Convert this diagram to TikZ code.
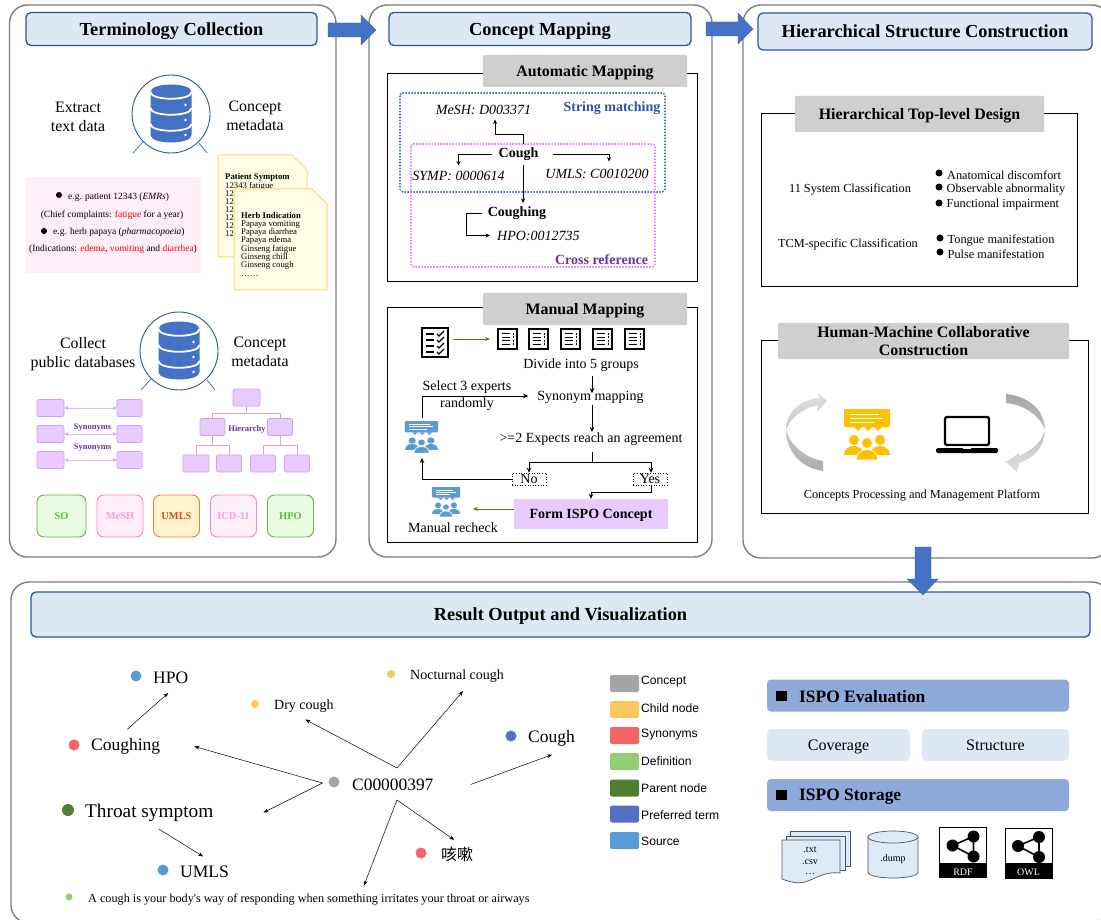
\documentclass[tikz,border=0pt]{standalone}
\usepackage{fontspec}
\setmainfont{Liberation Serif}
\newfontfamily\legendfont{Liberation Sans}
\newfontfamily\cjkfont{Noto Sans CJK SC}
\usetikzlibrary{arrows.meta}
\definecolor{arrowblue}{HTML}{4472C4}
\definecolor{headfill}{HTML}{DEE8F4}
\definecolor{headline}{HTML}{2F5597}
\definecolor{panelgray}{HTML}{7F7F7F}
\definecolor{grayhead}{HTML}{D0CECE}
\definecolor{lilac}{HTML}{E9CCFF}
\definecolor{lilacline}{HTML}{D59CF7}
\definecolor{crossline}{HTML}{E080FF}
\definecolor{deeppurple}{HTML}{7030A0}
\definecolor{docfill}{HTML}{FFFDE6}
\definecolor{docline}{HTML}{FFD966}
\definecolor{pinkfill}{HTML}{FDEEF8}
\definecolor{pinkline}{HTML}{FF80D0}
\definecolor{pinktext}{HTML}{FF99DD}
\definecolor{greenfill}{HTML}{E8FBE0}
\definecolor{greenline}{HTML}{70AD47}
\definecolor{orangefill}{HTML}{FFF2CC}
\definecolor{orangeline}{HTML}{ED7D31}
\definecolor{orangetext}{HTML}{C55A11}
\definecolor{crowdyellow}{HTML}{FFC000}
\definecolor{conceptcol}{HTML}{A5A5A5}
\definecolor{childcol}{HTML}{F9C85B}
\definecolor{syncol}{HTML}{F36666}
\definecolor{defcol}{HTML}{93CE74}
\definecolor{parentcol}{HTML}{4E7F2E}
\definecolor{prefcol}{HTML}{5470C6}
\definecolor{sourcecol}{HTML}{5B9BD5}
\definecolor{evalbar}{HTML}{8EAADB}
\definecolor{storeline}{HTML}{44546A}
\definecolor{storefill}{HTML}{DEEAF6}
\newcommand{\fsz}[1]{\fontsize{#1pt}{\the\dimexpr#1pt*115/100\relax}\selectfont}
\tikzset{
  txt/.style={font=\fsz{#1}, inner sep=1pt, align=center, yshift=-1.5pt},
  boldtxt/.style={txt=#1, font=\fsz{#1}\bfseries},
  itxt/.style={txt=#1, font=\fsz{#1}\itshape},
  twolines/.style={font=\fontsize{15.9pt}{19pt}\selectfont, inner sep=1pt, align=center},
  wh/.style 2 args={minimum width=#1pt, minimum height=#2pt, inner sep=0pt},
  panel/.style={draw=panelgray, line width=1.4pt, rounded corners=18pt},
  headbox/.style={draw=headline, fill=headfill, line width=1.3pt, rounded corners=5pt, font=\fsz{18.4}\bfseries, text depth=0pt},
  grayhd/.style={fill=grayhead, rounded corners=1pt, font=\fsz{15.9}\bfseries, align=center, text depth=0pt},
  blockarrow/.style={fill=arrowblue, draw=arrowblue!80!black, line width=0.3pt},
  subframe/.style={draw=black, line width=0.9pt},
  dottedbox/.style={draw=#1, dash pattern=on 1.5pt off 1.5pt, line width=1.6pt, rounded corners=3pt},
  docpage/.style={draw=docline, fill=docfill, line width=1pt},
  doctxt/.style={anchor=north west, inner sep=0pt, align=left, font=\fontsize{8.7pt}{8pt}\selectfont},
  lilacbox/.style={draw=lilacline, fill=lilac, rounded corners=2pt, line width=0.8pt},
  synarrow/.style={draw=lilacline!70, line width=0.9pt, {Stealth[length=4pt,width=4pt,lilacline]}-{Stealth[length=4pt,width=4pt,lilacline]}},
  hierline/.style={draw=lilacline, line width=1pt},
  purpletxt/.style={font=\fsz{8.5}\bfseries, text=deeppurple, inner sep=0pt},
  srcbox/.style={rounded corners=7pt, line width=0.9pt, font=\fsz{10.4}\bfseries, minimum height=42pt, inner sep=0pt, text depth=0pt},
  thinflow/.style={draw=black, line width=0.7pt, -{Stealth[length=4.5pt,width=4pt]}},
  flow/.style={draw=black, line width=0.9pt, -{Stealth[length=5pt,width=4.5pt]}},
  greenflow/.style={draw=parentcol, line width=0.7pt, -{Stealth[length=5pt,width=4pt]}},
  answer/.style={draw=black, dotted, line width=0.6pt, font=\fsz{14}, minimum width=34pt, minimum height=12pt, inner sep=0pt, text depth=0pt},
  bulletdot/.style={fill=black, circle, minimum size=#1pt, inner sep=0pt},
  gdot/.style={fill=#1, circle, minimum size=11pt, inner sep=0pt},
  gtxt/.style={font=\fsz{#1}, anchor=west, inner sep=0pt, yshift=-1.5pt},
  graphedge/.style={draw=black, line width=0.5pt, -{Stealth[length=5pt,width=4pt]}},
  swatch/.style={fill=#1, rounded corners=2pt, minimum width=29pt, minimum height=17pt, inner sep=0pt},
  legendtxt/.style={font=\legendfont\fsz{12.1}, anchor=west, inner sep=0pt},
  evalhd/.style={fill=evalbar, rounded corners=4pt, minimum width=302pt, minimum height=32pt, inner sep=0pt},
  evalsub/.style={fill=headfill, rounded corners=5pt, minimum height=32pt, inner sep=0pt, font=\fsz{16}, text depth=0pt},
  evaltitle/.style={anchor=west, inner sep=0pt, font=\fsz{17.4}\bfseries}
}
% database in a round frame
\newcommand{\dbicon}[2]{
  \begin{scope}[shift={(#1,#2)}]
    \draw[headline, line width=0.9pt] (0,0) circle (39);
    \draw[arrowblue, line width=0.8pt] (-28,28) -- (-38,39);
    \draw[arrowblue, line width=0.8pt] (28,29) -- (36,39);
    \fill[arrowblue] (-20.5,-22) .. controls (-20.5,-32) and (20.5,-32) .. (20.5,-22) -- (20.5,21) .. controls (20.5,31) and (-20.5,31) .. (-20.5,21) -- cycle;
    \draw[white, line width=1.8pt] (-20.5,-22) .. controls (-20.5,-13) and (20.5,-13) .. (20.5,-22);
    \draw[white, line width=1.8pt] (-20.5,-6) .. controls (-20.5,3) and (20.5,3) .. (20.5,-6);
    \draw[white, line width=1.8pt] (-20.5,10) .. controls (-20.5,19) and (20.5,19) .. (20.5,10);
    \fill[white] (14.5,-9) circle (1.3);
    \fill[white] (14.5,6) circle (1.3);
    \fill[white] (14.5,21) circle (1.3);
  \end{scope}
}
% three people under a speech bubble; arguments: x, top y, scaling, colour
\newcommand{\crowdicon}[4]{
  \begin{scope}[shift={(#1,#2)}, #3]
    \fill[#4, rounded corners=1pt] (-23,0) rectangle (23,18);
    \fill[#4] (-13,18) -- (-5,18) -- (-9,22) -- cycle;
    \fill[#4] (-3,18) -- (5,18) -- (1,22) -- cycle;
    \fill[#4] (7,18) -- (15,18) -- (11,22) -- cycle;
    \draw[white, line width=0.6pt] (-17,5) -- (12,5);
    \draw[white, line width=0.6pt] (-17,9) -- (16,9);
    \draw[white, line width=0.6pt] (-17,13) -- (7,13);
    \fill[#4] (-13,31) circle (5);
    \fill[#4] (13,31) circle (5);
    \fill[#4] (-23,46) .. controls (-23,34) and (-3,34) .. (-3,46) -- cycle;
    \fill[#4] (3,46) .. controls (3,34) and (23,34) .. (23,46) -- cycle;
    \fill[#4, draw=white, line width=0.7pt] (0,34) circle (5.5);
    \fill[#4, draw=white, line width=0.7pt] (-11,51) .. controls (-11,37) and (11,37) .. (11,51) -- cycle;
  \end{scope}
}
\newcommand{\checkicon}[2]{
  \begin{scope}[shift={(#1,#2)}]
    \draw[black, line width=2.2pt, fill=white] (1,1) rectangle (27,30);
    \draw[black, line width=1.3pt] (5,7) -- (13,7);
    \draw[black, line width=1.3pt] (5,13) -- (13,13);
    \draw[black, line width=1.3pt] (5,19) -- (13,19);
    \draw[black, line width=1.3pt] (5,25) -- (13,25);
    \draw[black, line width=1.2pt] (16,7) -- (18,9) -- (23,4);
    \draw[black, line width=1.2pt] (16,13) -- (18,15) -- (23,10);
    \draw[black, line width=1.2pt] (16,19) -- (18,21) -- (23,16);
    \draw[black, line width=1.2pt] (16,25) -- (18,27) -- (23,22);
  \end{scope}
}
\newcommand{\listicon}[2]{
  \begin{scope}[shift={(#1,#2)}]
    \draw[black, line width=1.8pt, fill=white] (0.8,0.8) rectangle (20.2,21.2);
    \draw[black, line width=0.8pt] (4.5,5.5) -- (13,5.5);
    \draw[black, line width=0.8pt] (4.5,9) -- (13,9);
    \draw[black, line width=0.8pt] (4.5,12.5) -- (13,12.5);
    \draw[black, line width=0.8pt] (4.5,16) -- (13,16);
    \fill[black] (15.5,4.5) rectangle (17,6.5);
    \fill[black] (15.5,8) rectangle (17,10);
    \fill[black] (15.5,11.5) rectangle (17,13.5);
    \fill[black] (15.5,15) rectangle (17,17);
  \end{scope}
}
% linked-data badge
\newcommand{\graphbadge}[4]{
  \begin{scope}[shift={(#1,#2)}]
    \draw[black, line width=1pt, fill=white] (0,0) rectangle (47,50);
    \fill[black] (0,35) rectangle (47,50);
    \draw[black, line width=1.6pt] (13,18) -- (34,9) -- (34,29) -- cycle;
    \fill[black] (13,18) circle (6);
    \fill[black] (34,9) circle (6);
    \fill[black] (34,29) circle (6);
    \node[txt=10, text=white] (#3) at (23.5,43) {#4};
  \end{scope}
}
\begin{document}
\begin{tikzpicture}[x=1pt,y=-1pt]
  \useasboundingbox (0,0) rectangle (1101,920);
  \clip (0,0) rectangle (1101,920);
  \fill[white] (0,0) rectangle (1101,920);
  % four panels
  \draw[panel] (9.5,5) rectangle (336,557);
  \draw[panel] (369,5) rectangle (712,557);
  \draw[panel] (743,5) rectangle (1110,558);
  \draw[panel] (11,582) rectangle (1110,923);
  \node[headbox, wh={291}{33}] (collecthd) at (171.5,29) {Terminology Collection};
  \node[headbox, wh={302}{33}] (mappinghd) at (540,29) {Concept Mapping};
  \node[headbox, wh={334}{37}] (structhd) at (925,31.5) {Hierarchical Structure Construction};
  \node[headbox, wh={1059}{45}] (resulthd) at (560.5,614.5) {Result Output and Visualization};
  \draw[blockarrow] (328,23) -- (361,23) -- (361,15) -- (376,30) -- (361,45) -- (361,37) -- (328,37) -- cycle;
  \draw[blockarrow] (706,22) -- (738,22) -- (738,13) -- (753,29) -- (738,44) -- (738,36) -- (706,36) -- cycle;
  \draw[blockarrow] (915,547) -- (931,547) -- (931,579) -- (938,579) -- (923,595) -- (907,579) -- (915,579) -- cycle;

  % terminology collection
  \dbicon{171}{114}
  \node[twolines] (extract) at (78,116.5) {Extract\\text data};
  \node[twolines] (metaa) at (255,115.5) {Concept\\metadata};
  \fill[pinkfill] (26,177) rectangle (201,273);
  \node[bulletdot=6] (bulleta) at (59,195) {};
  \node[txt=9.5, anchor=west] (patient) at (67,196) {e.g. patient 12343 (\textit{EMRs})};
  \node[txt=9.5] (chief) at (112,214) {(Chief complaints: \textcolor{red}{fatigue} for a year)};
  \node[bulletdot=6] (bulletb) at (44,231) {};
  \node[txt=9.5, anchor=west] (herb) at (52,231) {e.g. herb papaya (\textit{pharmacopoeia})};
  \node[txt=9.5] (indic) at (113,248) {(Indications: \textcolor{red}{edema}, \textcolor{red}{vomiting} and \textcolor{red}{diarrhea})};
  \draw[docpage] (218,155) -- (292,155) -- (307,170) -- (307,257) -- (218,257) -- cycle;
  \node[doctxt] (symptom) at (225,173.5) {\textbf{Patient Symptom}\\12343 fatigue\\12\\12\\12\\12\\12\\12};
  \draw[docpage] (234,189) -- (312,189) -- (327,204) -- (327,290) -- (234,290) -- cycle;
  \node[doctxt] (indication) at (241,212) {\textbf{Herb Indication}\\Papaya vomiting\\Papaya diarrhea\\Papaya edema\\Ginseng fatigue\\Ginseng chill\\Ginseng cough\\[1pt]\ldots\ldots};
  \dbicon{179}{351}
  \node[twolines] (public) at (83,354) {Collect\\public databases};
  \node[twolines] (metab) at (260,351.5) {Concept\\metadata};
  \node[lilacbox, wh={27}{17}] (syna) at (50.5,408) {};
  \node[lilacbox, wh={25}{17}] (synb) at (129.5,408) {};
  \node[lilacbox, wh={27}{17}] (sync) at (50.5,434) {};
  \node[lilacbox, wh={25}{17}] (synd) at (129.5,434) {};
  \node[lilacbox, wh={27}{17}] (syne) at (50.5,460) {};
  \node[lilacbox, wh={25}{17}] (synf) at (129.5,460) {};
  \draw[synarrow] (syna) to (synb);
  \draw[synarrow] (sync) to (synd);
  \draw[synarrow] (syne) to (synf);
  \node[purpletxt] (syntxta) at (92.5,428) {Synonyms};
  \node[purpletxt] (syntxtb) at (92.5,448) {Synonyms};
  \node[lilacbox, wh={27}{17}] (hroot) at (246.5,397.5) {};
  \node[lilacbox, wh={25}{17}] (hmida) at (212.5,427) {};
  \node[lilacbox, wh={25}{17}] (hmidb) at (280,427) {};
  \node[lilacbox, wh={26}{17}] (hleafa) at (196,463.5) {};
  \node[lilacbox, wh={25}{17}] (hleafb) at (229,463.5) {};
  \node[lilacbox, wh={25}{17}] (hleafc) at (263,463.5) {};
  \node[lilacbox, wh={25}{17}] (hleafd) at (297,463.5) {};
  \draw[hierline] (hroot.south) -- ++(0,7) -| (hmida.north);
  \draw[hierline] (hroot.south) -- ++(0,7) -| (hmidb.north);
  \draw[hierline] (hmida.south) -- ++(0,10) -| (hleafa.north);
  \draw[hierline] (hmida.south) -- ++(0,10) -| (hleafb.north);
  \draw[hierline] (hmidb.south) -- ++(0,10) -| (hleafc.north);
  \draw[hierline] (hmidb.south) -- ++(0,10) -| (hleafd.north);
  \node[purpletxt] (hiertxt) at (247,429) {Hierarchy};
  \node[srcbox, draw=greenline, fill=greenfill, text=greenline!85!green, minimum width=49pt] (so) at (61.5,516) {SO};
  \node[srcbox, draw=pinkline, fill=pinkfill, text=pinktext, minimum width=46pt] (mesh) at (120,516) {MeSH};
  \node[srcbox, draw=orangeline, fill=orangefill, text=orangetext, minimum width=46pt] (umls) at (176.5,516) {UMLS};
  \node[srcbox, draw=pinkline, fill=pinkfill, text=pinktext, minimum width=46pt] (icd) at (233.5,516) {ICD-11};
  \node[srcbox, draw=greenline, fill=greenfill, text=greenline!85!green, minimum width=46pt] (hposrc) at (290.5,516) {HPO};

  % automatic mapping
  \draw[subframe] (387,73) rectangle (697,281);
  \node[grayhd, wh={204}{32}] (autohd) at (585,71) {Automatic Mapping};
  \draw[dottedbox=arrowblue] (400,93) rectangle (665,192);
  \draw[dottedbox=crossline] (411,144) rectangle (655,267);
  \node[boldtxt=14, text=headline] (stringtxt) at (612,107) {String matching};
  \node[boldtxt=14, text=deeppurple] (crosstxt) at (601.5,258) {Cross reference};
  \node[itxt=14] (meshid) at (483.5,108) {MeSH: D003371};
  \node[boldtxt=14] (cough) at (518.5,153) {Cough};
  \node[itxt=14] (sympid) at (458.5,174) {SYMP: 0000614};
  \node[itxt=14] (umlsid) at (597,172) {UMLS: C0010200};
  \node[boldtxt=14] (coughing) at (517,212) {Coughing};
  \node[itxt=14, anchor=west] (hpoid) at (496,234) {HPO:0012735};
  \draw[thinflow] ([xshift=4.5pt,yshift=3pt]cough.north) -- ++(0,-10) -| ([xshift=11.5pt,yshift=-4pt]meshid.south);
  \draw[thinflow] ([xshift=-5pt]cough.west) -| ([yshift=4pt]sympid.north);
  \draw[thinflow] ([xshift=13pt]cough.east) -| ([xshift=12pt,yshift=6pt]umlsid.north);
  \draw[thinflow] ([xshift=4.5pt,yshift=-3pt]cough.south) -- ([xshift=6pt,yshift=3pt]coughing.north);
  \draw[thinflow] ([xshift=-5pt]coughing.west) -- ++(-15,0) |- ([xshift=-6pt]hpoid.west);

  % manual mapping
  \draw[subframe] (387,307) rectangle (697,542);
  \node[grayhd, wh={204}{32}] (manualhd) at (585,309) {Manual Mapping};
  \checkicon{421}{327}
  \coordinate (checkout) at (453,339);
  \coordinate (groupin) at (490,339);
  \draw[greenflow] (checkout) to (groupin);
  \listicon{497}{328}
  \listicon{528}{328}
  \listicon{560}{328}
  \listicon{592}{328}
  \listicon{624}{328}
  \node[txt=14] (divide) at (581,364) {Divide into 5 groups};
  \node[txt=14] (synmap) at (590.5,396) {Synonym mapping};
  \node[font=\fontsize{14pt}{17pt}\selectfont, align=center, inner sep=1pt] (select) at (467,395.5) {Select 3 experts\\randomly};
  \node[txt=14] (agree) at (591,438) {>=2 Expects reach an agreement};
  \coordinate (split) at (592,462);
  \node[answer, fill=white] (nobox) at (529,479) {No};
  \node[answer, fill=white] (yesbox) at (650,479) {Yes};
  \node[fill=lilac, wh={154}{30}, font=\fsz{14}\bfseries, text depth=0pt] (form) at (591,514) {Form ISPO Concept};
  \crowdicon{421.5}{421}{xscale=0.72,yscale=0.63}{sourcecol}
  \coordinate (crowdtop) at (422,418);
  \coordinate (crowdlow) at (422,458);
  \crowdicon{446}{487}{xscale=0.61,yscale=0.59}{sourcecol}
  \coordinate (recheckpt) at (473,509);
  \node[txt=14] (recheck) at (453,526) {Manual recheck};
  \draw[flow] ([xshift=11pt,yshift=-3pt]divide.south) -- ([xshift=1.5pt,yshift=-3pt]synmap.north);
  \draw[flow] ([xshift=1.5pt]synmap.south) -- ([xshift=1pt]agree.north);
  \draw[line width=0.9pt] ([yshift=-5pt]agree.south -| split) -- (split);
  \draw[flow] (split) -| (nobox.north);
  \draw[flow] (split) -| ([xshift=1pt]yesbox.north);
  \draw[flow, line width=0.7pt] (crowdtop) |- ([xshift=-8pt,yshift=1.5pt]synmap.west);
  \draw[flow, line width=0.7pt] (nobox.west) -| (crowdlow);
  \draw[flow] ([xshift=1pt]yesbox.south) -- ++(0,7) -| (form.north);
  \draw[greenflow, line width=0.9pt] ([yshift=5pt]form.west) -- (recheckpt);

  % top-level design
  \draw[subframe] (761,113) rectangle (1077,286);
  \node[grayhd, wh={249}{36}] (tophd) at (919.5,114) {Hierarchical Top-level Design};
  \node[txt=12.3] (sysclass) at (850,188) {11 System Classification};
  \node[txt=12.3] (tcmclass) at (848,243) {TCM-specific Classification};
  \node[bulletdot=7] (bulletc) at (939,173) {};
  \node[bulletdot=7] (bulletd) at (939,187) {};
  \node[bulletdot=7] (bullete) at (939,203) {};
  \node[bulletdot=7] (bulletf) at (940,238) {};
  \node[bulletdot=7] (bulletg) at (940,252) {};
  \node[txt=12.3, anchor=west] (anat) at (946,174) {Anatomical discomfort};
  \node[txt=12.3, anchor=west] (observ) at (945.5,188) {Observable abnormality};
  \node[txt=12.3, anchor=west] (funct) at (945.5,203) {Functional impairment};
  \node[txt=12.3, anchor=west] (tongue) at (946.5,239) {Tongue manifestation};
  \node[txt=12.3, anchor=west] (pulse) at (946.5,253) {Pulse manifestation};

  % human-machine construction
  \draw[subframe] (761,340) rectangle (1088,513);
  \node[grayhd, wh={291}{36}] (humanhd) at (923.5,341) {Human-Machine Collaborative\\Construction};
  \shade[top color=gray!25, bottom color=gray!65] (823,471) .. controls (800,468) and (786,450) .. (786,430) .. controls (786,412) and (800,400) .. (819,398) -- (818,393) -- (827,401) -- (817,412) -- (818,405) .. controls (803,408) and (790,418) .. (786,430) .. controls (790,445) and (805,458) .. (823,461) -- cycle;
  \shade[top color=gray!70, bottom color=gray!25] (1006,394) .. controls (1028,396) and (1045,410) .. (1045,430) .. controls (1045,445) and (1035,458) .. (1019,463) -- (1017,472) -- (1006,462) -- (1019,453) -- (1019,456) .. controls (1032,450) and (1042,442) .. (1045,430) .. controls (1040,416) and (1025,405) .. (1006,403) -- cycle;
  \crowdicon{867}{409}{scale=1}{crowdyellow}
  \draw[black, line width=2.4pt, rounded corners=1.5pt, fill=white] (945,417) rectangle (989,445);
  \fill[black, rounded corners=1.5pt] (936,448) rectangle (998,453);
  \fill[white] (963,448) rectangle (971,449.3);
  \node[txt=12.3] (platform) at (922,494) {Concepts Processing and Management Platform};

  % concept graph
  \node[gdot=conceptcol] (cdot) at (334,782) {};
  \node[gtxt=17.4] (concept) at (352,783) {C00000397};
  \node[gdot=sourcecol] (hpodot) at (136,676) {};
  \node[gtxt=17.5] (hpo) at (153,676) {HPO};
  \node[gdot=syncol] (coughingdot) at (74,745) {};
  \node[gtxt=17.5] (coughingt) at (91,745) {Coughing};
  \node[gdot=parentcol, minimum size=12pt] (throatdot) at (68,810) {};
  \node[gtxt=19.3] (throat) at (85,811) {Throat symptom};
  \node[gdot=sourcecol] (umlsdot) at (163,870) {};
  \node[gtxt=17.5] (umlst) at (180,870) {UMLS};
  \node[gdot=childcol, minimum size=8pt] (drydot) at (255,704) {};
  \node[gtxt=14] (dry) at (274,705) {Dry cough};
  \node[gdot=childcol, minimum size=8pt] (nightdot) at (391,674) {};
  \node[gtxt=14] (night) at (410,675) {Nocturnal cough};
  \node[gdot=prefcol] (prefdot) at (511,736) {};
  \node[gtxt=17.5] (pref) at (528,737) {Cough};
  \node[gdot=syncol] (cjkdot) at (421,853) {};
  \node[gtxt=16] (cjkterm) at (441,853) {\cjkfont 咳嗽};
  \node[gdot=defcol, minimum size=7pt] (defdot) at (69,897) {};
  \node[gtxt=12.2] (deft) at (88,898) {A cough is your body\textquotesingle s way of responding when something irritates your throat or airways};
  \coordinate (hubleft) at (322.5,783);
  \coordinate (hubup) at (397,768);
  \coordinate (hublow) at (397,800);
  \draw[graphedge] (hubleft) -- ([xshift=34pt]coughingt.east);
  \draw[graphedge] (hubleft) -- ([xshift=50pt]throat.east);
  \draw[graphedge] (hubup) -- ([xshift=6pt,yshift=-8pt]night.south);
  \draw[graphedge] (hubup) -- ([xshift=1.5pt,yshift=-6.5pt]dry.south);
  \draw[graphedge] ([xshift=37pt]concept.east) -- ([xshift=0.5pt,yshift=-8pt]pref.south);
  \draw[graphedge] (hublow) -- ([xshift=-3pt,yshift=7pt]cjkterm.north);
  \draw[graphedge] (hublow) -- ([xshift=55pt,yshift=8pt]deft.north);
  \draw[graphedge] ([xshift=1.5pt,yshift=9pt]coughingt.north) -- ([xshift=-2.5pt,yshift=-9.5pt]hpo.south);
  \draw[graphedge] ([xshift=9.5pt,yshift=-7.5pt]throat.south) -- ([xshift=-1.5pt,yshift=9pt]umlst.north);

  % legend
  \node[swatch=conceptcol] (swa) at (624.5,683.5) {};
  \node[swatch=childcol] (swb) at (624.5,709.5) {};
  \node[swatch=syncol] (swc) at (624.5,735.5) {};
  \node[swatch=defcol] (swd) at (624.5,761.5) {};
  \node[swatch=parentcol] (swe) at (624.5,788) {};
  \node[swatch=prefcol] (swf) at (624.5,814) {};
  \node[swatch=sourcecol] (swg) at (624.5,840.5) {};
  \node[legendtxt] (lga) at (641,682) {Concept};
  \node[legendtxt] (lgb) at (641,708) {Child node};
  \node[legendtxt] (lgc) at (641,735) {Synonyms};
  \node[legendtxt] (lgd) at (641,761) {Definition};
  \node[legendtxt] (lge) at (641,788) {Parent node};
  \node[legendtxt] (lgf) at (641,815) {Preferred term};
  \node[legendtxt] (lgg) at (641,841) {Source};

  % evaluation and storage
  \node[evalhd] (evalbarn) at (918,695.5) {};
  \fill[black] (776,691) rectangle (787,701);
  \node[evaltitle] (evaltxt) at (799,697) {ISPO Evaluation};
  \node[evalsub, minimum width=143pt] (coverage) at (838.5,745) {Coverage};
  \node[evalsub, minimum width=147pt] (structure) at (995.5,745) {Structure};
  \node[evalhd] (storebarn) at (918,795) {};
  \fill[black] (776,790) rectangle (787,800);
  \node[evaltitle] (storetxt) at (799,797) {ISPO Storage};
  \draw[storeline, fill=storefill, line width=0.7pt] (790,831) rectangle (850,866);
  \draw[storeline, fill=storefill, line width=0.7pt] (786,836) rectangle (845,870);
  \draw[storeline, fill=storefill, line width=0.7pt] (782,840) -- (840,840) -- (840,873) .. controls (825,871) and (815,879) .. (805,882) .. controls (798,884) and (790,882) .. (782,879) -- cycle;
  \node[txt=10] (txtfile) at (810,848) {.txt};
  \node[txt=10] (csvfile) at (810,861) {.csv};
  \node[txt=10] (morefile) at (810,873) {\ldots};
  \draw[storeline, fill=storefill, line width=0.7pt] (868,837) -- (868,872) .. controls (868,880) and (918,880) .. (918,872) -- (918,837) -- cycle;
  \draw[storeline, fill=storefill, line width=0.7pt] (893,837) ellipse [x radius=25, y radius=6];
  \node[txt=10] (dumpfile) at (893,858) {.dump};
  \graphbadge{939.5}{827.5}{rdf}{RDF}
  \graphbadge{1005}{828}{owl}{OWL}
\end{tikzpicture}
\end{document}
